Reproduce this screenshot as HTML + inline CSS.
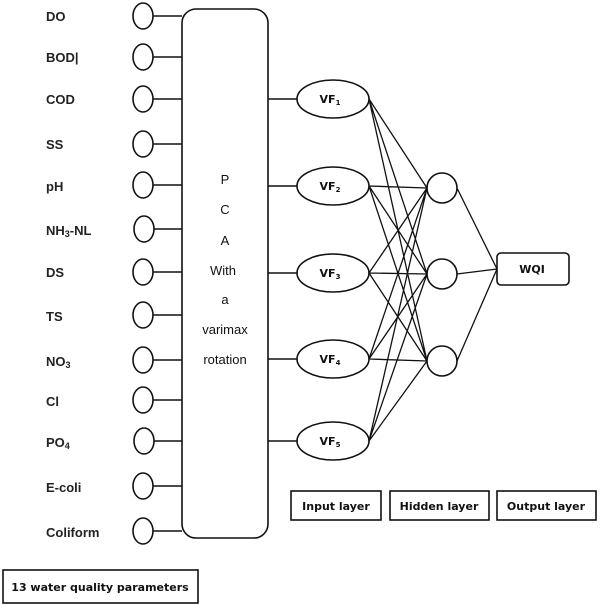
<!DOCTYPE html>
<html><head><style>body{margin:0;background:#fff}svg{display:block}
.l{font-family:"Liberation Sans",sans-serif;font-size:13px;font-weight:bold;fill:#222}
.s{font-family:"DejaVu Sans","Liberation Sans",sans-serif;font-size:11px;font-weight:bold;fill:#111}
.p{font-family:"Liberation Sans",sans-serif;font-size:13px;fill:#111}
</style></head><body>
<svg width="600" height="605" viewBox="0 0 600 605" xmlns="http://www.w3.org/2000/svg">
<g stroke="#111" stroke-width="1.6" fill="none">
<rect x="182" y="9" width="86" height="529" rx="14"/>
<g id="in">
<ellipse cx="143" cy="16" rx="10" ry="13"/><line x1="153" y1="16" x2="182" y2="16"/>
<ellipse cx="143" cy="57" rx="10" ry="13"/><line x1="153" y1="57" x2="182" y2="57"/>
<ellipse cx="143" cy="99" rx="10" ry="13"/><line x1="153" y1="99" x2="182" y2="99"/>
<ellipse cx="143" cy="144" rx="10" ry="13"/><line x1="153" y1="144" x2="182" y2="144"/>
<ellipse cx="143" cy="185" rx="10" ry="13"/><line x1="153" y1="185" x2="182" y2="185"/>
<ellipse cx="144" cy="229" rx="10" ry="13"/><line x1="154" y1="229" x2="182" y2="229"/>
<ellipse cx="143" cy="272" rx="10" ry="13"/><line x1="153" y1="272" x2="182" y2="272"/>
<ellipse cx="143" cy="315" rx="10" ry="13"/><line x1="153" y1="315" x2="182" y2="315"/>
<ellipse cx="143" cy="360" rx="10" ry="13"/><line x1="153" y1="360" x2="182" y2="360"/>
<ellipse cx="143" cy="400" rx="10" ry="13"/><line x1="153" y1="400" x2="182" y2="400"/>
<ellipse cx="144" cy="441" rx="10" ry="13"/><line x1="154" y1="441" x2="182" y2="441"/>
<ellipse cx="143" cy="486" rx="10" ry="13"/><line x1="153" y1="486" x2="182" y2="486"/>
<ellipse cx="143" cy="531" rx="10" ry="13"/><line x1="153" y1="531" x2="182" y2="531"/>
</g>
<line x1="268" y1="99" x2="297" y2="99"/><line x1="268" y1="186" x2="297" y2="186"/>
<line x1="268" y1="273" x2="297" y2="273"/><line x1="268" y1="359" x2="297" y2="359"/>
<line x1="268" y1="441" x2="297" y2="441"/>
<ellipse cx="333" cy="99" rx="36" ry="19"/><ellipse cx="333" cy="186" rx="36" ry="19"/>
<ellipse cx="333" cy="273" rx="36" ry="19"/><ellipse cx="333" cy="359" rx="36" ry="19"/>
<ellipse cx="333" cy="441" rx="36" ry="19"/>
<g stroke-width="1.3">
<path d="M369 99L427 188M369 99L427 274M369 99L427 361
M369 186L427 188M369 186L427 274M369 186L427 361
M369 273L427 188M369 273L427 274M369 273L427 361
M369 359L427 188M369 359L427 274M369 359L427 361
M369 441L427 188M369 441L427 274M369 441L427 361
M457 188L497 269M457 274L497 269M457 361L497 269"/>
</g>
<circle cx="442" cy="188" r="15" fill="#fff"/><circle cx="442" cy="274" r="15" fill="#fff"/><circle cx="442" cy="361" r="15" fill="#fff"/>
<rect x="497" y="253" width="72" height="32" rx="4"/>
<rect x="291" y="491" width="90" height="29"/>
<rect x="390" y="491" width="99" height="29"/>
<rect x="497" y="491" width="99" height="29"/>
<rect x="3" y="570" width="195" height="33"/>
</g>
<g class="l">
<text x="46" y="21">DO</text><text x="46" y="62">BOD|</text><text x="46" y="104">COD</text>
<text x="46" y="149">SS</text><text x="46" y="191">pH</text>
<text x="46" y="235">NH<tspan font-size="9" dy="2">3</tspan><tspan dy="-2">-NL</tspan></text>
<text x="46" y="277">DS</text><text x="46" y="321">TS</text>
<text x="46" y="366">NO<tspan font-size="9" dy="2">3</tspan></text>
<text x="46" y="406">Cl</text>
<text x="46" y="447">PO<tspan font-size="9" dy="2">4</tspan></text>
<text x="46" y="492">E-coli</text><text x="46" y="537">Coliform</text>
</g>
<g class="p" text-anchor="middle">
<text x="225" y="184">P</text><text x="225" y="214">C</text><text x="225" y="245">A</text>
<text x="223" y="275">With</text><text x="225" y="304">a</text>
<text x="225" y="334">varimax</text><text x="225" y="364">rotation</text>
</g>
<g class="s" text-anchor="middle" font-size="10">
<text x="330" y="103">VF<tspan font-size="7" dy="2">1</tspan></text>
<text x="330" y="190">VF<tspan font-size="7" dy="2">2</tspan></text>
<text x="330" y="277">VF<tspan font-size="7" dy="2">3</tspan></text>
<text x="330" y="363">VF<tspan font-size="7" dy="2">4</tspan></text>
<text x="330" y="445">VF<tspan font-size="7" dy="2">5</tspan></text>
<text x="532" y="273">WQI</text>
<text x="336" y="510">Input layer</text>
<text x="439" y="510">Hidden layer</text>
<text x="546" y="510">Output layer</text>
<text x="100" y="591">13 water quality parameters</text>
</g>
</svg>
</body></html>
